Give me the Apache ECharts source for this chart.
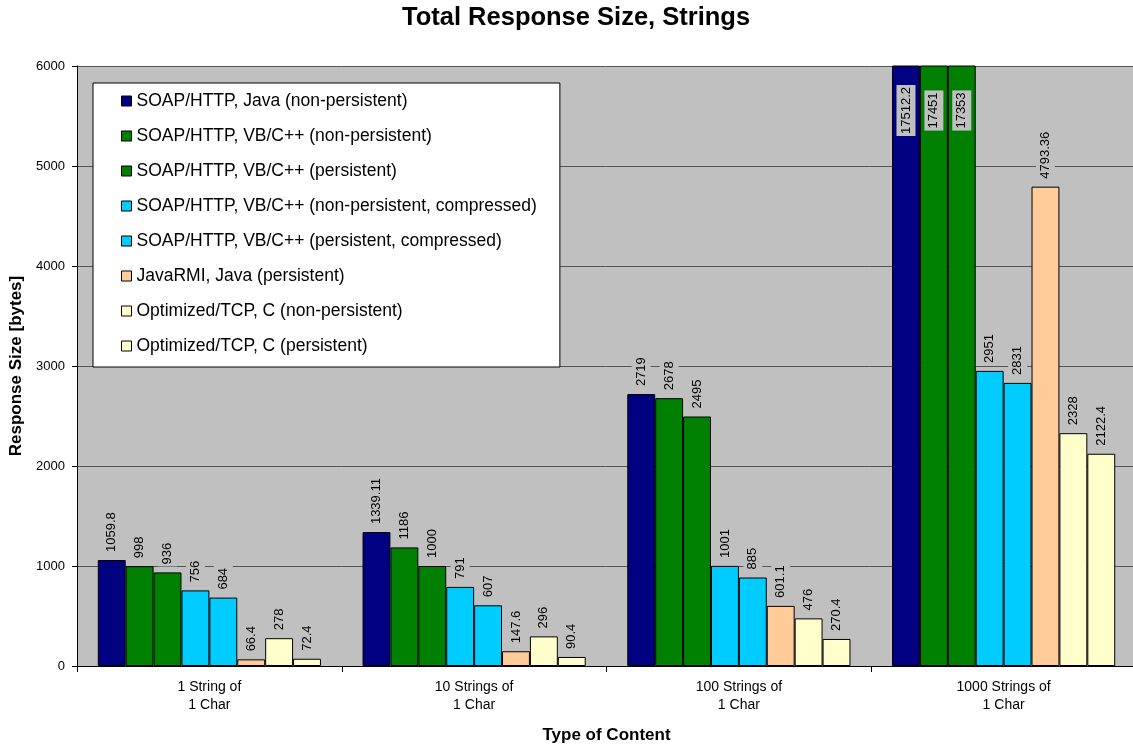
<!DOCTYPE html>
<html>
<head>
<meta charset="utf-8">
<script src="https://cdn.jsdelivr.net/npm/echarts@6/dist/echarts.min.js"></script>
<style>
  html, body { margin: 0; padding: 0; background: #fff; }
  #chart { width: 1133px; height: 748px; }
</style>
</head>
<body>
<div id="chart"></div>
<script>
// Content types (x categories)
const categories = ['1 String of\n1 Char', '10 Strings of\n1 Char', '100 Strings of\n1 Char', '1000 Strings of\n1 Char'];

// Response sizes in bytes, one list per protocol/configuration
const soapJavaNonPersistent = [1059.8, 1339.11, 2719, 17512.2];
const soapVbNonPersistent = [998, 1186, 2678, 17451];
const soapVbPersistent = [936, 1000, 2495, 17353];
const soapVbNonPersistentCompressed = [756, 791, 1001, 2951];
const soapVbPersistentCompressed = [684, 607, 885, 2831];
const javaRmiPersistent = [66.4, 147.6, 601.1, 4793.36];
const tcpNonPersistent = [278, 296, 476, 2328];
const tcpPersistent = [72.4, 90.4, 270.4, 2122.4];

const seriesNames = [
  'SOAP/HTTP, Java (non-persistent)',
  'SOAP/HTTP, VB/C++ (non-persistent)',
  'SOAP/HTTP, VB/C++ (persistent)',
  'SOAP/HTTP, VB/C++ (non-persistent, compressed)',
  'SOAP/HTTP, VB/C++ (persistent, compressed)',
  'JavaRMI, Java (persistent)',
  'Optimized/TCP, C (non-persistent)',
  'Optimized/TCP, C (persistent)'
];
const seriesValues = [
  soapJavaNonPersistent, soapVbNonPersistent, soapVbPersistent,
  soapVbNonPersistentCompressed, soapVbPersistentCompressed,
  javaRmiPersistent, tcpNonPersistent, tcpPersistent
];
const seriesColors = ['#000080', '#008000', '#008000', '#00CCFF', '#00CCFF', '#FFCC99', '#FFFFCC', '#FFFFCC'];

const yTicks = [0, 1000, 2000, 3000, 4000, 5000, 6000];
const yMax = yTicks[yTicks.length - 1];

const FONT = 'Liberation Sans, Arial, sans-serif';
const plotBg = '#C0C0C0';

const baseLabel = {
  show: true,
  position: 'top',
  rotate: 90,
  align: 'left',
  verticalAlign: 'middle',
  distance: 6,
  color: '#000',
  fontFamily: FONT,
  fontSize: 13,
  backgroundColor: plotBg,
  padding: [3, 2, 3, 2],
  formatter: '{c}'
};

// Bars that run past the axis are clipped; their labels sit inside the top of the bar
function buildData(values) {
  return values.map(v => v > yMax
    ? { value: v, label: { position: 'insideTop', align: 'center', distance: 45 } }
    : v);
}

const series = seriesNames.map((name, i) => ({
  name: name,
  type: 'bar',
  data: buildData(seriesValues[i]),
  clip: true,
  barGap: '0%',
  barCategoryGap: '15.7%',
  itemStyle: { color: seriesColors[i], borderColor: '#000', borderWidth: 1 },
  label: baseLabel,
  emphasis: { disabled: true },
  animation: false
}));

const chart = echarts.init(document.getElementById('chart'), null, { renderer: 'canvas' });
chart.setOption({
  animation: false,
  backgroundColor: '#fff',
  title: {
    text: 'Total Response Size, Strings',
    left: 397,
    top: 0,
    textStyle: { fontFamily: FONT, fontSize: 25.5, fontWeight: 'bold', color: '#000' }
  },
  legend: {
    orient: 'vertical',
    left: 93,
    top: 83,
    padding: [9, 23, 12, 28],
    itemGap: 17,
    itemWidth: 10,
    itemHeight: 10,
    backgroundColor: '#fff',
    borderColor: '#000',
    borderWidth: 1,
    icon: 'rect',
    itemStyle: { borderColor: '#000', borderWidth: 1 },
    textStyle: { fontFamily: FONT, fontSize: 17.5, color: '#000', lineHeight: 17.5 },
    selectedMode: false,
    data: seriesNames
  },
  grid: {
    left: 77,
    top: 66,
    right: -3,
    bottom: 82,
    outerBoundsMode: 'none',
    containLabel: false,
    show: true,
    backgroundColor: plotBg,
    borderWidth: 0
  },
  xAxis: {
    type: 'category',
    data: categories,
    name: 'Type of Content',
    nameLocation: 'middle',
    nameGap: 61,
    nameTextStyle: { fontFamily: FONT, fontSize: 17, fontWeight: 'bold', color: '#000' },
    axisLine: { show: true, lineStyle: { color: '#000', width: 1 } },
    axisTick: { show: true, length: 6, lineStyle: { color: '#000' } },
    axisLabel: { fontFamily: FONT, fontSize: 14, color: '#000', lineHeight: 18, margin: 12 }
  },
  yAxis: {
    type: 'value',
    min: 0,
    max: yMax,
    interval: 1000,
    name: 'Response Size [bytes]',
    nameLocation: 'middle',
    nameGap: 50,
    nameTextStyle: { fontFamily: FONT, fontSize: 17, fontWeight: 'bold', color: '#000' },
    axisLine: { show: true, lineStyle: { color: '#000', width: 1 } },
    axisTick: { show: true, length: 5, lineStyle: { color: '#000' } },
    axisLabel: { fontFamily: FONT, fontSize: 13, color: '#000', margin: 12, formatter: v => String(v) },
    splitLine: { show: true, lineStyle: { color: '#555', width: 1 } }
  },
  series: series
});
</script>
</body>
</html>
